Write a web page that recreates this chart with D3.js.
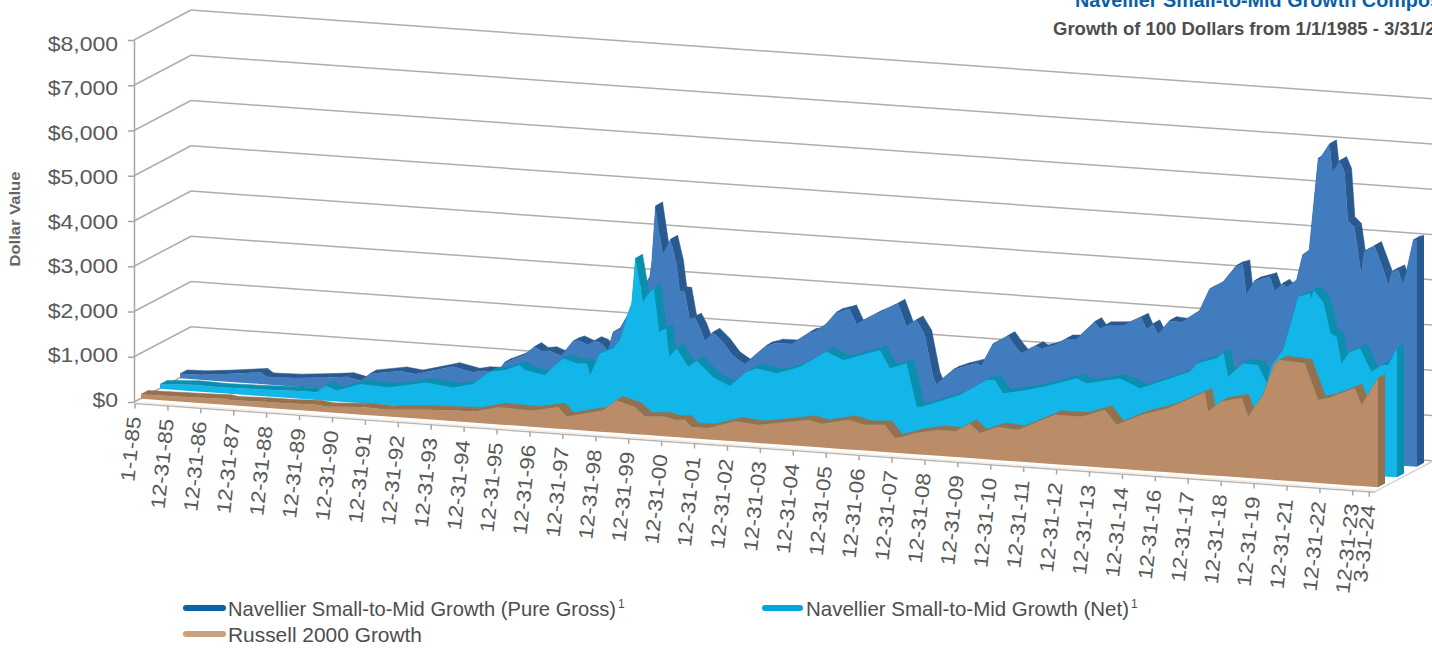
<!DOCTYPE html>
<html>
<head>
<meta charset="utf-8">
<style>
  html, body { margin: 0; padding: 0; background: #fff; overflow: hidden; }
  svg { display: block; }
  text { font-family: "Liberation Sans", Arial, sans-serif; }
</style>
<script src="https://cdn.jsdelivr.net/npm/d3@7"></script>
</head>
<body>
<svg id="chart" width="1432" height="650"></svg>
<script>
// Values. Months are counted from 1-1-85.
var yTicks = [0, 1000, 2000, 3000, 4000, 5000, 6000, 7000, 8000];

var xLabels = ["1-1-85", "12-31-85", "12-31-86", "12-31-87", "12-31-88", "12-31-89", "12-31-90",
  "12-31-91", "12-31-92", "12-31-93", "12-31-94", "12-31-95", "12-31-96", "12-31-97", "12-31-98",
  "12-31-99", "12-31-00", "12-31-01", "12-31-02", "12-31-03", "12-31-04", "12-31-05", "12-31-06",
  "12-31-07", "12-31-08", "12-31-09", "12-31-10", "12-31-11", "12-31-12", "12-31-13", "12-31-14",
  "12-31-16", "12-31-17", "12-31-18", "12-31-19", "12-31-21", "12-31-22", "12-31-23", "3-31-24"];
var xLabelMonths = [0, 12, 24, 36, 48, 60, 72, 84, 96, 108, 120, 132, 144, 156, 168, 180, 192, 204,
  216, 228, 240, 252, 264, 276, 288, 300, 312, 324, 336, 348, 360, 372, 384, 396, 408, 420, 432, 444, 450];

var grossMonths = [0, 7.3, 17, 29.4, 31.6, 41.5, 53.5, 60.8, 65.9, 69.3, 80.2, 86, 99.5, 106.8, 110.5, 116,
  118.4, 125, 129.3, 131.7, 134.8, 139, 143.3, 145, 148.7, 151.2, 153.6, 156, 157.9, 160.3, 171.3, 172,
  173.4, 174.9, 176, 178.9, 181, 182.2, 184, 185.8, 187.6, 189.5, 191.3, 194.3, 198, 201.6, 205.9, 213.7,
  217.4, 222.9, 229.6, 231.4, 235.6, 239.3, 241.7, 244.1, 246.6, 253.8, 258.7, 261.8, 264.8, 268.4, 271.5,
  274.5, 275.7, 281.8, 285.4, 290.3, 292.1, 296.4, 301.9, 304.9, 306.7, 312.2, 314, 318.3, 323.1, 326.8,
  333.5, 335.3, 337.1, 343.8, 350.5, 352.3, 354.7, 356.5, 360.8, 365, 371.7, 375.4, 380.2, 385.1, 387.5,
  388.7, 391.8, 397.3, 399.1, 402.1, 403.3, 407.1, 409.3, 411.7, 415, 415.5, 419.1, 420.2, 422.8, 424.6,
  425.8, 428.2, 429.5, 430.6, 431.6, 435.5, 439.1, 440.5, 441.7, 444, 445.7, 447, 449.7, 451];
var grossValues = [100, 110, 170, 260, 170, 186, 250, 300, 232, 400, 512, 470, 690, 597, 648, 656,
  866, 1041, 1260, 1167, 1193, 1103, 1439, 1476, 1388, 1487, 1439, 1286, 1702, 1783, 2988, 3286,
  4559, 3947, 3510, 3847, 3310, 2725, 2720, 2115, 2161, 1949, 1660, 1859, 1653, 1372, 1209, 1646,
  1722, 1724, 2011, 2033, 2221, 2495, 2541, 2590, 2270, 2522, 2674, 2791, 2309, 2451, 2155,
  1246, 1070, 1406, 1494, 1589, 1545, 2042, 2250, 2007, 1883, 2073, 2009, 2100, 2270, 2285,
  2696, 2542, 2623, 2652, 2866, 2617, 2738, 2524, 2838, 2820, 3105, 3600, 3770, 4157, 4206,
  3547, 3854, 3967, 3666, 3843, 3759, 3934, 4500, 4619, 6661, 6648, 6995, 6387, 6641, 6393,
  5328, 5193, 4645, 4186, 4668, 4818, 4245, 3971, 4270, 4340, 4031, 4259, 5006, 5023];

var netMonths = [0, 12, 21.8, 33.9, 48.5, 57, 60.6, 64.3, 72.8, 83.7, 97, 106.8, 114.1, 120.3, 125.8, 131.2,
  133, 140.4, 142.8, 147, 151.9, 155.6, 156.8, 160.4, 165.3, 167.7, 170.7, 172, 173.4, 176.1, 178, 180.1,
  182, 184.5, 185.7, 188.4, 192.6, 195.7, 201.7, 207.8, 213.9, 217.5, 224.8, 233.3, 243, 249.1, 262.5,
  266.1, 272.2, 275.9, 277.7, 291.6, 301.4, 304.4, 307.4, 316, 322, 334.2, 337.8, 350, 357.3, 364.6,
  375.5, 378, 385.2, 387.7, 389.5, 394.9, 400.4, 403.5, 405.3, 409.5, 415, 419.2, 419.8, 420.6, 423.5,
  424.1, 426.8, 429, 430.8, 433.8, 437.5, 441.7, 445.4, 447.8, 451];
var netValues = [100, 144, 128, 141, 168, 170, 332, 236, 422, 396, 563, 495, 600, 900, 961, 1094,
  992, 913, 1072, 1310, 1222, 1238, 983, 1481, 1611, 1806, 2409, 2634, 3635, 2687, 2866, 3001,
  2051, 2137, 1514, 1710, 1324, 1470, 1129, 964, 1304, 1397, 1317, 1500, 1874, 1717, 1996,
  1607, 1744, 800, 809, 1127, 1500, 1514, 1233, 1344, 1443, 1680, 1585, 1748, 1560, 1737,
  2004, 2201, 2345, 2477, 1956, 2276, 2261, 1870, 2283, 2632, 3834, 3927, 3819, 4004, 3797,
  3764, 3076, 3010, 2431, 2701, 2791, 2292, 2455, 2466, 2849];

var russellMonths = [0, 20, 30.6, 33, 44, 52.5, 63.4, 68.2, 80.5, 90, 104.6, 121.8, 130.3, 142.4, 152.1, 155.2,
  168.5, 173.4, 180.1, 183.7, 190.4, 194.7, 198.3, 200.8, 206.8, 216.5, 225, 243.3, 248.2, 257.9, 263.9,
  271.2, 274.9, 277.3, 282.2, 290.7, 296.8, 302.2, 305.9, 312.5, 319.8, 333.2, 342.9, 351.4, 355.7, 364.8,
  374.5, 387.9, 389.1, 394, 401.3, 403.7, 409.1, 413.4, 415.2, 424.3, 429.2, 432.9, 442.6, 445, 451];
var russellValues = [100, 119, 135, 110, 130, 130, 150, 120, 168, 150, 212, 252, 382, 362, 477, 285,
  477, 718, 599, 409, 438, 382, 398, 248, 252, 442, 402, 592, 526, 656, 572,
  603, 325, 358, 466, 577, 568, 760, 570, 732, 703, 1094, 1098, 1282, 970, 1229,
  1421, 1825, 1410, 1653, 1757, 1364, 1865, 2583, 2656, 2630, 1841, 1894, 2157, 1799, 2409];

var svg = d3.select("#chart");

// Projection of the 3D box: the floor runs downhill to the right, depth goes up and right
var skew = 0.0715;
var depthX = 57, depthY = 30;
var bandX = 7, bandY = 3.9;

var yScale = d3.scaleLinear().domain([0, 8000]).range([402, 40]);
var xScale = d3.scaleLinear().domain([0, 451]).range([135, 1372]);

function drop(m) { return (xScale(m) - xScale(0)) * skew; }

var series = [
  { name: "gross",   months: grossMonths,   values: grossValues,   off: 45, face: "#417cbf", top: "#28598f" },
  { name: "net",     months: netMonths,     values: netValues,     off: 25, face: "#12b6e9", top: "#0b8fae" },
  { name: "russell", months: russellMonths, values: russellValues, off: 6,  face: "#ba8c68", top: "#94704f" }
];

// ── Walls and gridlines ───────────────────────────────────
var xEnd = 1432 - depthX;
var endDrop = (xEnd - xScale(0)) * skew;

svg.append("g").selectAll("line.wall")
  .data(yTicks).enter().append("line")
  .attr("x1", 134).attr("y1", function(d) { return yScale(d); })
  .attr("x2", 134 + depthX).attr("y2", function(d) { return yScale(d) - depthY; })
  .attr("stroke", "#adadad").attr("stroke-width", 1.5);

svg.append("g").selectAll("line.back")
  .data(yTicks).enter().append("line")
  .attr("x1", 134 + depthX).attr("y1", function(d) { return yScale(d) - depthY; })
  .attr("x2", 1432).attr("y2", function(d) { return yScale(d) - depthY + endDrop; })
  .attr("stroke", "#adadad").attr("stroke-width", 1.5);

// Right edge of the floor
svg.append("line")
  .attr("x1", xEnd).attr("y1", yScale(0) + endDrop + 1)
  .attr("x2", 1432).attr("y2", yScale(0) + endDrop + 1 - depthY)
  .attr("stroke", "#d4d4d4").attr("stroke-width", 1.5);

// ── Series, back to front ─────────────────────────────────
series.forEach(function(s) {
  var dy = s.off * depthY / depthX;
  var pts = s.months.map(function(m, i) {
    return {
      x: xScale(m) + s.off,
      y0: yScale(0) + drop(m) - dy,
      y1: yScale(s.values[i]) + drop(m) - dy
    };
  });

  var line = d3.line().x(function(p) { return p[0]; }).y(function(p) { return p[1]; });

  // top surface: one quad per segment, pushed back by the band depth
  var band = svg.append("g").attr("fill", s.top).attr("stroke", s.top).attr("stroke-width", 0.5);
  d3.pairs(pts).forEach(function(seg) {
    var a = seg[0], b = seg[1];
    band.append("path").attr("d", line([
      [a.x, a.y1], [b.x, b.y1], [b.x + bandX, b.y1 - bandY], [a.x + bandX, a.y1 - bandY]
    ]) + "Z");
  });

  // right end of the ribbon
  var last = pts[pts.length - 1];
  svg.append("path")
    .attr("d", line([
      [last.x, last.y1], [last.x + bandX, last.y1 - bandY],
      [last.x + bandX, last.y0 - bandY], [last.x, last.y0]
    ]) + "Z")
    .attr("fill", s.top);

  // front face
  var area = d3.area()
    .x(function(p) { return p.x; })
    .y0(function(p) { return p.y0; })
    .y1(function(p) { return p.y1; });

  svg.append("path").attr("d", area(pts)).attr("fill", s.face);
});

// ── Front edge and x labels ───────────────────────────────
svg.append("line")
  .attr("x1", xScale(0)).attr("y1", yScale(0) + 1.5)
  .attr("x2", xEnd).attr("y2", yScale(0) + endDrop + 1.5)
  .attr("stroke", "#b5b5b5").attr("stroke-width", 1.5);
svg.append("line")
  .attr("x1", xScale(0) + 4).attr("y1", yScale(0) + 0.5)
  .attr("x2", xEnd).attr("y2", yScale(0) + endDrop)
  .attr("stroke", "#f7eadf").attr("stroke-width", 1.5);

var xg = svg.append("g");
xLabelMonths.forEach(function(m, i) {
  var tx = xScale(m), ty = yScale(0) + drop(m) + 1.5;
  xg.append("line")
    .attr("x1", tx).attr("y1", ty).attr("x2", tx).attr("y2", ty + 5)
    .attr("stroke", "#a6a6a6").attr("stroke-width", 1.5);
  xg.append("text")
    .attr("transform", "translate(" + (tx - 1) + "," + (ty + 13) + ") rotate(-84) scale(1.13,1)")
    .attr("text-anchor", "end")
    .attr("dy", "0.35em")
    .style("font-size", "20px")
    .attr("fill", "#595959")
    .text(xLabels[i]);
});

// ── Y axis ────────────────────────────────────────────────
var yAxis = svg.append("g")
  .attr("transform", "translate(134,0)")
  .call(d3.axisLeft(yScale).tickValues(yTicks).tickSize(6).tickSizeOuter(0)
    .tickFormat(function(d) { return "$" + d3.format(",")(d); }));
yAxis.select(".domain").attr("stroke", "#a6a6a6").attr("stroke-width", 1.5);
yAxis.selectAll(".tick line").attr("stroke", "#a6a6a6").attr("stroke-width", 1.5);
yAxis.selectAll(".tick text")
  .attr("x", -16)
  // the printed labels sit on a slightly tighter pitch than the ticks
  .attr("y", function(d) { return -2.7 + d / 8000 * 5.7; })
  .attr("dy", "0.36em")
  .style("font-size", "20px")
  .attr("fill", "#595959")
  .attr("font-family", "Liberation Sans")
  .each(function() {
    d3.select(this)
      .attr("textLength", this.getComputedTextLength() * 1.15)
      .attr("lengthAdjust", "spacingAndGlyphs");
  });

svg.append("text")
  .attr("transform", "translate(20,219) rotate(-90)")
  .attr("text-anchor", "middle")
  .attr("textLength", 95).attr("lengthAdjust", "spacingAndGlyphs")
  .style("font-size", "14px").style("font-weight", "bold")
  .attr("fill", "#666")
  .text("Dollar Value");

// ── Titles, cut off by the page edge as in the source ─────
svg.append("text")
  .attr("x", 1075).attr("y", 7)
  .style("font-size", "19.8px").style("font-weight", "bold")
  .attr("fill", "#0a5fa8")
  .text("Navellier Small-to-Mid Growth Composite");

svg.append("text")
  .attr("x", 1053).attr("y", 35)
  .style("font-size", "18.5px").style("font-weight", "bold")
  .attr("fill", "#4d4d4d")
  .text("Growth of 100 Dollars from 1/1/1985 - 3/31/2024");

// ── Legend ────────────────────────────────────────────────
function legendItem(x1, x2, y, color, tx, tw, label, sup) {
  svg.append("line")
    .attr("x1", x1).attr("x2", x2).attr("y1", y).attr("y2", y)
    .attr("stroke", color).attr("stroke-width", 6).attr("stroke-linecap", "round");
  svg.append("text")
    .attr("x", tx).attr("y", y + 8)
    .attr("textLength", tw).attr("lengthAdjust", "spacingAndGlyphs")
    .style("font-size", "21px").attr("fill", "#4d4d4d")
    .text(label);
  if (sup) {
    svg.append("text")
      .attr("x", tx + tw + 2).attr("y", y)
      .style("font-size", "12px").attr("fill", "#4d4d4d")
      .text("1");
  }
}
legendItem(186, 223, 608, "#0b62a4", 228, 388, "Navellier Small-to-Mid Growth (Pure Gross)", true);
legendItem(765, 800, 608, "#00a5de", 806, 323, "Navellier Small-to-Mid Growth (Net)", true);
legendItem(186, 223, 634, "#cf9f79", 228, 194, "Russell 2000 Growth", false);
</script>
</body>
</html>
